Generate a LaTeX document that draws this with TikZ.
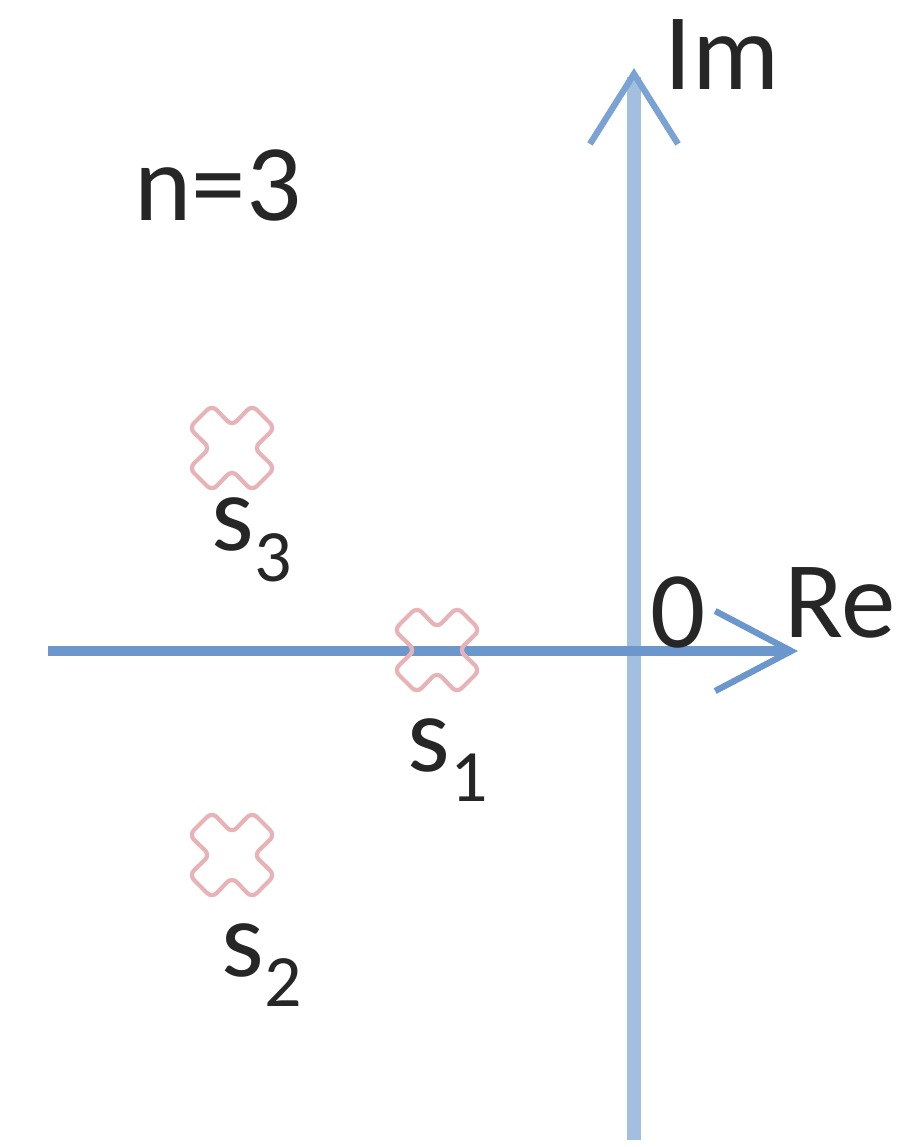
\documentclass[tikz,border=0pt]{standalone}
\usepackage{fontspec}
\setmainfont{Carlito}
\usepackage{tikz}
\usetikzlibrary{arrows.meta}
\definecolor{vaxis}{HTML}{A3BFDF}
\definecolor{haxis}{HTML}{6C97CD}
\definecolor{tipblue}{HTML}{7AA3D3}
\definecolor{polepink}{HTML}{E8B3B6}
\newcommand{\lowidx}[1]{\raisebox{-0.28em}{\fontsize{21}{21}\selectfont #1}}
\begin{document}
\begin{tikzpicture}[x=0.01cm,y=-0.01cm,
  lbl/.style={inner sep=0pt,font=\fontsize{31}{36}\selectfont,text=black!85},
  vax/.style={vaxis,line width=4pt,
    -{Straight Barb[length=7mm,width=8.8mm,line width=1.8pt,color=tipblue]}},
  hax/.style={haxis,line width=2.6pt,
    -{Straight Barb[length=7.6mm,width=8mm,line width=1.8pt]}},
  pole/.pic={\draw[polepink,line width=1.2pt,rounded corners=2pt]
    (0,-22) -- (20,-43) -- (43,-20) -- (22,0) -- (43,20) -- (20,43) -- (0,22)
    -- (-20,43) -- (-43,20) -- (-22,0) -- (-43,-20) -- (-20,-43) -- cycle;}]
\useasboundingbox (0,0) rectangle (917,1147);
% axes
\coordinate (vb) at (634,1140);
\coordinate (vt) at (634,68);
\coordinate (hl) at (48,651);
\coordinate (hr) at (798,651);
\draw[vax] (vb) -- (vt);
\draw[hax] (hl) -- (hr);
% poles
\coordinate (p3) at (232,448);
\coordinate (p1) at (437,650);
\coordinate (p2) at (232,855);
\pic at (p3) {pole};
\pic at (p1) {pole};
\pic at (p2) {pole};
% labels
\node[lbl] (im) at (722,55) {Im};
\node[lbl] (re) at (840,603) {Re};
\node[lbl] (org) at (678,612) {0};
\node[lbl] (n) at (218,185) {n=3};
\node[lbl] (s3) at (252,540) {s\lowidx{3}};
\node[lbl] (s1) at (448,760) {s\lowidx{1}};
\node[lbl] (s2) at (262,965) {s\lowidx{2}};
\end{tikzpicture}
\end{document}
